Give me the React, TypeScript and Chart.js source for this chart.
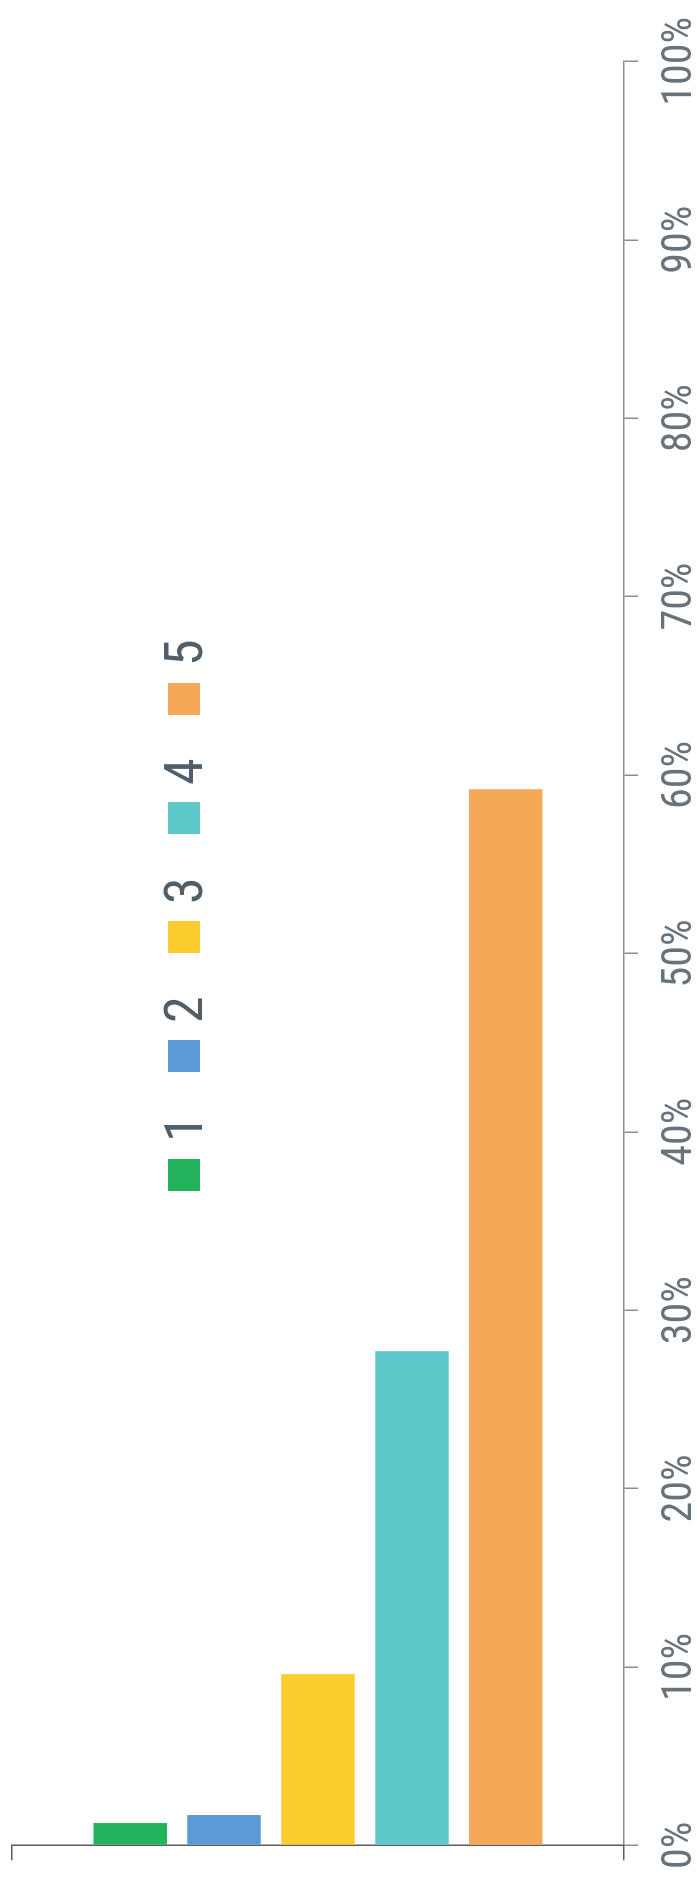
import React, { useEffect, useRef } from 'react';
import { Chart, registerables } from 'chart.js';

Chart.register(...registerables);

// ---- data ----
const categories = [''];
const seriesNames = ['1', '2', '3', '4', '5'];
const seriesValues = [1.25, 1.7, 9.6, 27.7, 59.2];
const tickLabels = ['0%', '10%', '20%', '30%', '40%', '50%', '60%', '70%', '80%', '90%', '100%'];

// ---- styles ----
const seriesColors = ['#22b35c', '#5b9bd5', '#fdcd30', '#5ec8cb', '#f5a957'];
const FONT = "'Roboto Condensed', 'Liberation Sans Narrow', 'DejaVu Sans Condensed', sans-serif";
const W = 1886; // drawn landscape, then turned a quarter turn
const H = 697;
const AXIS_GRAY = '#8a8d90';

export default function App() {
  const canvasRef = useRef<HTMLCanvasElement | null>(null);

  useEffect(() => {
    const canvas = canvasRef.current;
    if (!canvas) return;
    const chart = new Chart(canvas, {
      type: 'bar',
      data: {
        labels: categories,
        datasets: seriesNames.map((name, i) => ({
          label: name,
          data: [seriesValues[i]],
          backgroundColor: seriesColors[i],
          borderWidth: 0,
          categoryPercentage: 0.767,
          barPercentage: 0.783,
        })),
      },
      options: {
        indexAxis: 'y',
        responsive: false,
        animation: false,
        devicePixelRatio: 1,
        layout: { padding: { top: 12, right: 49, left: 0, bottom: 0 } },
        plugins: {
          legend: { display: false },
          tooltip: { enabled: false },
        },
        scales: {
          x: {
            type: 'linear',
            position: 'bottom',
            min: 0,
            max: 100,
            afterFit: (scale: any) => {
              scale.height = 73;
            },
            border: { display: true, color: AXIS_GRAY, width: 1.5 },
            grid: {
              drawOnChartArea: false,
              drawTicks: true,
              tickLength: 14,
              color: AXIS_GRAY,
              lineWidth: 1.5,
            },
            ticks: {
              stepSize: 10,
              autoSkip: false,
              maxRotation: 0,
              minRotation: 0,
              padding: 17,
              color: '#67727a',
              font: { family: FONT, size: 42 },
              callback: (_v: any, i: number) => tickLabels[i],
            },
          },
          y: {
            type: 'category',
            position: 'left',
            afterFit: (scale: any) => {
              scale.width = 32;
            },
            border: { display: true, color: '#5a5d60', width: 1.5 },
            grid: {
              drawOnChartArea: false,
              drawTicks: true,
              tickLength: 15,
              color: '#5a5d60',
              lineWidth: 1.5,
            },
            ticks: { display: false },
          },
        },
      },
    });
    return () => chart.destroy();
  }, []);

  return (
    <div
      style={{
        position: 'absolute',
        left: 0,
        top: 0,
        width: H,
        height: W,
        overflow: 'hidden',
        background: '#ffffff',
      }}
    >
      <div
        style={{
          position: 'absolute',
          left: 0,
          top: 0,
          width: W,
          height: H,
          transformOrigin: '0 0',
          transform: `translate(0px, ${W}px) rotate(-90deg)`,
        }}
      >
        <canvas ref={canvasRef} width={W} height={H} style={{ width: W, height: H, display: 'block' }} />
        <div
          style={{
            position: 'absolute',
            left: 695,
            top: 157,
            height: 54,
            display: 'flex',
            alignItems: 'center',
          }}
        >
          {seriesNames.map((name, i) => (
            <div key={name} style={{ width: 119, display: 'flex', alignItems: 'center' }}>
              <span
                style={{
                  display: 'inline-block',
                  width: 32,
                  height: 32,
                  background: seriesColors[i],
                  marginRight: 17,
                }}
              />
              <span
                style={{
                  fontFamily: FONT,
                  fontSize: 54,
                  lineHeight: 1,
                  color: '#4f5e68',
                }}
              >
                {name}
              </span>
            </div>
          ))}
        </div>
      </div>
    </div>
  );
}
